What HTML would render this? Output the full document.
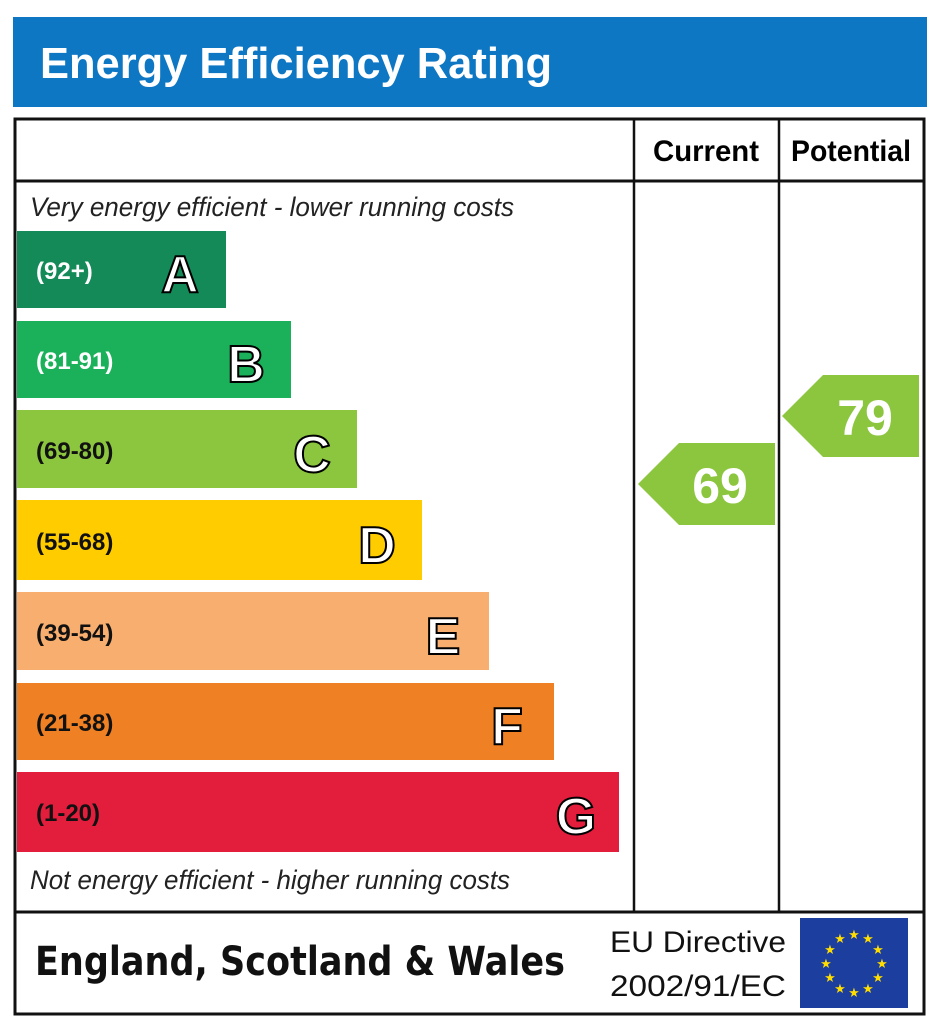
<!DOCTYPE html>
<html><head><meta charset="utf-8"><style>body{margin:0;background:#fff}svg{display:block}</style></head><body>
<svg width="944" height="1024" viewBox="0 0 944 1024" xmlns="http://www.w3.org/2000/svg" font-family="Liberation Sans, sans-serif">
<rect x="13" y="17" width="914" height="90" fill="#0e77c4"/>
<text x="40" y="78" font-size="44" font-weight="bold" fill="#fff" textLength="512" lengthAdjust="spacingAndGlyphs">Energy Efficiency Rating</text>
<rect x="15" y="119" width="909" height="895" fill="none" stroke="#111" stroke-width="3"/>
<line x1="15" y1="181" x2="924" y2="181" stroke="#111" stroke-width="3"/>
<line x1="15" y1="912" x2="924" y2="912" stroke="#111" stroke-width="3"/>
<line x1="634" y1="119" x2="634" y2="912" stroke="#111" stroke-width="2.5"/>
<line x1="779" y1="119" x2="779" y2="912" stroke="#111" stroke-width="2.5"/>
<text x="706" y="161" font-size="30" font-weight="bold" text-anchor="middle" textLength="106" lengthAdjust="spacingAndGlyphs">Current</text>
<text x="851" y="161" font-size="30" font-weight="bold" text-anchor="middle" textLength="120" lengthAdjust="spacingAndGlyphs">Potential</text>
<text x="30" y="216" font-size="27" font-style="italic" fill="#222" textLength="484" lengthAdjust="spacingAndGlyphs">Very energy efficient - lower running costs</text>
<text x="30" y="889" font-size="27" font-style="italic" fill="#222" textLength="480" lengthAdjust="spacingAndGlyphs">Not energy efficient - higher running costs</text>
<g font-weight="bold">
<rect x="17" y="231" width="209" height="77" fill="#138a57"/>
<text x="36" y="279" font-size="24" fill="#fff">(92+)</text>
<text x="180" y="292" font-size="52" fill="#fff" stroke="#000" stroke-width="2" text-anchor="middle">A</text>
<rect x="17" y="321" width="274" height="77" fill="#1bb15a"/>
<text x="36" y="369" font-size="24" fill="#fff">(81-91)</text>
<text x="246" y="382" font-size="52" fill="#fff" stroke="#000" stroke-width="2" text-anchor="middle">B</text>
<rect x="17" y="410" width="340" height="78" fill="#8cc63f"/>
<text x="36" y="459" font-size="24" fill="#111">(69-80)</text>
<text x="312" y="472" font-size="52" fill="#fff" stroke="#000" stroke-width="2" text-anchor="middle">C</text>
<rect x="17" y="500" width="405" height="80" fill="#ffcc00"/>
<text x="36" y="550" font-size="24" fill="#111">(55-68)</text>
<text x="377" y="563" font-size="52" fill="#fff" stroke="#000" stroke-width="2" text-anchor="middle">D</text>
<rect x="17" y="592" width="472" height="78" fill="#f7ae6e"/>
<text x="36" y="641" font-size="24" fill="#111">(39-54)</text>
<text x="443" y="654" font-size="52" fill="#fff" stroke="#000" stroke-width="2" text-anchor="middle">E</text>
<rect x="17" y="683" width="537" height="77" fill="#ef8023"/>
<text x="36" y="731" font-size="24" fill="#111">(21-38)</text>
<text x="507" y="744" font-size="52" fill="#fff" stroke="#000" stroke-width="2" text-anchor="middle">F</text>
<rect x="17" y="772" width="602" height="80" fill="#e31d3c"/>
<text x="36" y="821" font-size="24" fill="#111">(1-20)</text>
<text x="576" y="834" font-size="52" fill="#fff" stroke="#000" stroke-width="2" text-anchor="middle">G</text>
<polygon points="638,484 679,443 775,443 775,525 679,525" fill="#8cc63f"/>
<text x="720" y="503" font-size="50" fill="#fff" text-anchor="middle">69</text>
<polygon points="782,416 823,375 919,375 919,457 823,457" fill="#8cc63f"/>
<text x="865" y="435" font-size="50" fill="#fff" text-anchor="middle">79</text>
</g>
<text x="35" y="975" font-size="40" font-weight="bold" fill="#111" font-family="DejaVu Sans, sans-serif" textLength="530" lengthAdjust="spacingAndGlyphs">England, Scotland &amp; Wales</text>
<text x="610" y="952" font-size="30" fill="#111" textLength="176" lengthAdjust="spacingAndGlyphs">EU Directive</text>
<text x="610" y="996" font-size="30" fill="#111" textLength="176" lengthAdjust="spacingAndGlyphs">2002/91/EC</text>
<rect x="800" y="918" width="108" height="90" fill="#1c3f9f"/>
<g fill="#ffdd00" font-size="13" text-anchor="middle">
<text x="854" y="939">★</text><text x="868" y="943">★</text><text x="878" y="954">★</text><text x="882" y="968">★</text><text x="878" y="982">★</text><text x="868" y="993">★</text><text x="854" y="997">★</text><text x="840" y="993">★</text><text x="830" y="982">★</text><text x="826" y="968">★</text><text x="830" y="954">★</text><text x="840" y="943">★</text>
</g>
</svg>
</body></html>
